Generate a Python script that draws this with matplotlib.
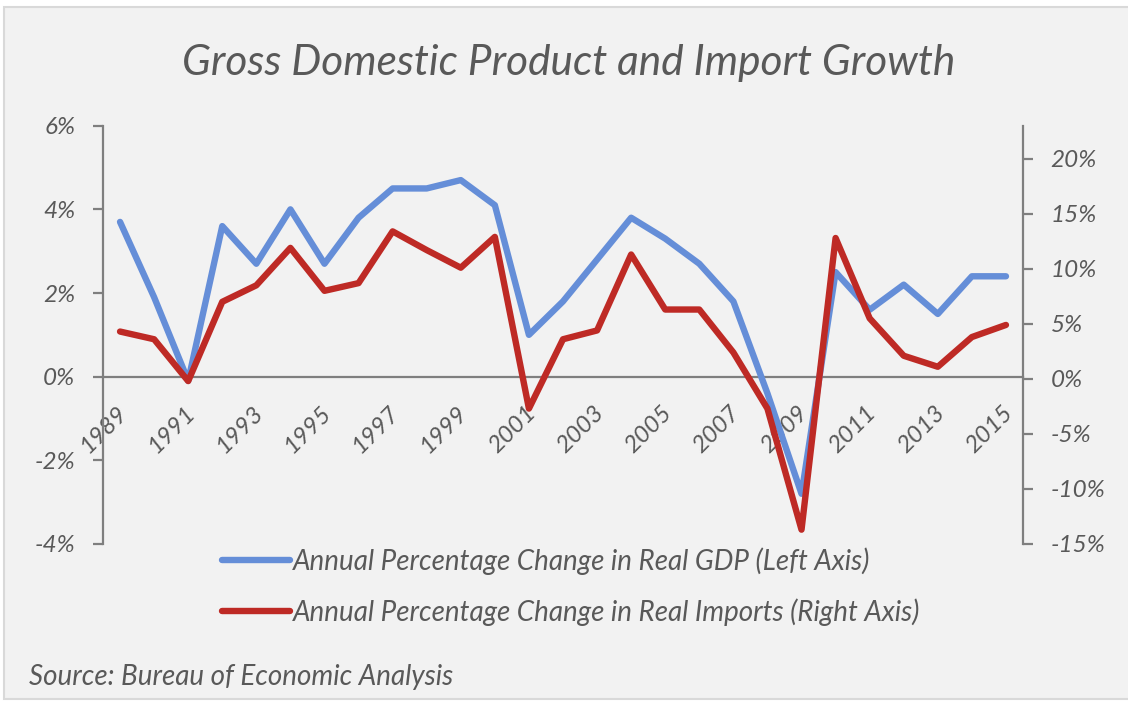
import matplotlib
matplotlib.use("Agg")
import matplotlib.pyplot as plt
from matplotlib.patches import Rectangle
from matplotlib.transforms import ScaledTranslation
import matplotlib.font_manager as fm

# ---- data ----
years = list(range(1989, 2016))
gdp = [3.7, 1.9, -0.1, 3.6, 2.7, 4.0, 2.7, 3.8, 4.5, 4.5, 4.7, 4.1, 1.0, 1.8,
       2.8, 3.8, 3.3, 2.7, 1.8, -0.4, -2.8, 2.5, 1.6, 2.2, 1.5, 2.4, 2.4]
imports = [4.3, 3.6, -0.2, 7.0, 8.5, 11.9, 8.0, 8.7, 13.4, 11.7, 10.1, 12.9, -2.7,
           3.6, 4.4, 11.3, 6.3, 6.3, 2.4, -2.7, -13.7, 12.8, 5.5, 2.1, 1.1, 3.8, 4.9]
label_years = years[::2]
left_ticks = [-4, -2, 0, 2, 4, 6]
right_ticks = [-15, -10, -5, 0, 5, 10, 15, 20]
title = "Gross Domestic Product and Import Growth"
gdp_label = "Annual Percentage Change in Real GDP (Left Axis)"
imp_label = "Annual Percentage Change in Real Imports (Right Axis)"
source = "Source: Bureau of Economic Analysis"

BLUE = "#658ED8"
RED = "#BE2A25"
GRAY = "#7f7f7f"
TXT = "#595959"
FAM = ["Lato", "DejaVu Sans"]

W, H = 1128, 703
fig = plt.figure(figsize=(W / 100, H / 100), dpi=100, facecolor="white")

# card background
fig.patches.append(Rectangle((4 / W, 1 - 699 / H), (W + 10) / W, (699 - 7) / H,
                             transform=fig.transFigure, facecolor="#f2f2f2",
                             edgecolor="#d9d9d9", linewidth=1.5, zorder=-10))

left, right = 103 / W, 1023 / W
top, bottom = 1 - 125.7 / H, 1 - 544 / H
ax = fig.add_axes([left, bottom, right - left, top - bottom])
ax2 = ax.twinx()
for a in (ax, ax2):
    a.patch.set_visible(False)

ax.set_xlim(1988.5, 2015.5)
ax.set_ylim(-4, 6)
ax2.set_ylim(-15, 23)

l1, = ax.plot(years, gdp, color=BLUE, lw=4.6, solid_capstyle="round",
              solid_joinstyle="round", zorder=3)
l2, = ax2.plot(years, imports, color=RED, lw=4.6, solid_capstyle="round",
               solid_joinstyle="round", zorder=3)

# spines
for a in (ax, ax2):
    for s in a.spines.values():
        s.set_color(GRAY)
        s.set_linewidth(1.6)
    a.spines["top"].set_visible(False)
ax.spines["right"].set_visible(False)
ax2.spines["left"].set_visible(False)
ax2.spines["bottom"].set_visible(False)
ax.spines["bottom"].set_position(("data", 0))
ax.spines["bottom"].set_zorder(1)

ax.set_yticks(left_ticks)
ax.set_yticklabels([f"{t}%" for t in left_ticks])
ax2.set_yticks(right_ticks)
ax2.set_yticklabels([f"{t}%" for t in right_ticks])
ax.tick_params(axis="y", direction="out", length=7, width=1.6, color=GRAY,
               pad=13, labelcolor=TXT, labelsize=17.5)
ax2.tick_params(axis="y", direction="out", length=7, width=1.6, color=GRAY,
                pad=13, labelcolor=TXT, labelsize=17.5)
for lab in ax.get_yticklabels() + ax2.get_yticklabels():
    lab.set_fontfamily(FAM)
    lab.set_fontstyle("italic")

ax.set_xticks(label_years)
ax.set_xticklabels([str(y) for y in label_years])
ax.tick_params(axis="x", length=0, pad=18, labelcolor=TXT, labelsize=17.5)
off = ScaledTranslation(-4 / 100, 0, fig.dpi_scale_trans)
for lab in ax.get_xticklabels():
    lab.set_fontfamily(FAM)
    lab.set_fontstyle("italic")
    lab.set_rotation(45)
    lab.set_ha("right")
    lab.set_va("top")
    lab.set_rotation_mode("anchor")
    lab.set_transform(lab.get_transform() + off)

# title
fig.text(569 / W, 1 - 75 / H, title, ha="center", va="baseline", color=TXT,
         fontsize=30.5, fontstyle="italic", family=FAM)

# legend
leg = fig.legend([l1, l2], [gdp_label, imp_label], loc="upper left",
                 bbox_to_anchor=(222 / W, 1 - 547 / H), frameon=False,
                 handlelength=2.45, handletextpad=0.1, labelspacing=0.85,
                 borderpad=0, borderaxespad=0,
                 prop=fm.FontProperties(family=FAM, style="italic", size=20))
for t in leg.get_texts():
    t.set_color(TXT)

# source
fig.text(29 / W, 1 - 685 / H, source, ha="left", va="baseline", color=TXT,
         fontsize=20, fontstyle="italic", family=FAM)

fig.savefig("out.png", dpi=100, facecolor=fig.get_facecolor())
